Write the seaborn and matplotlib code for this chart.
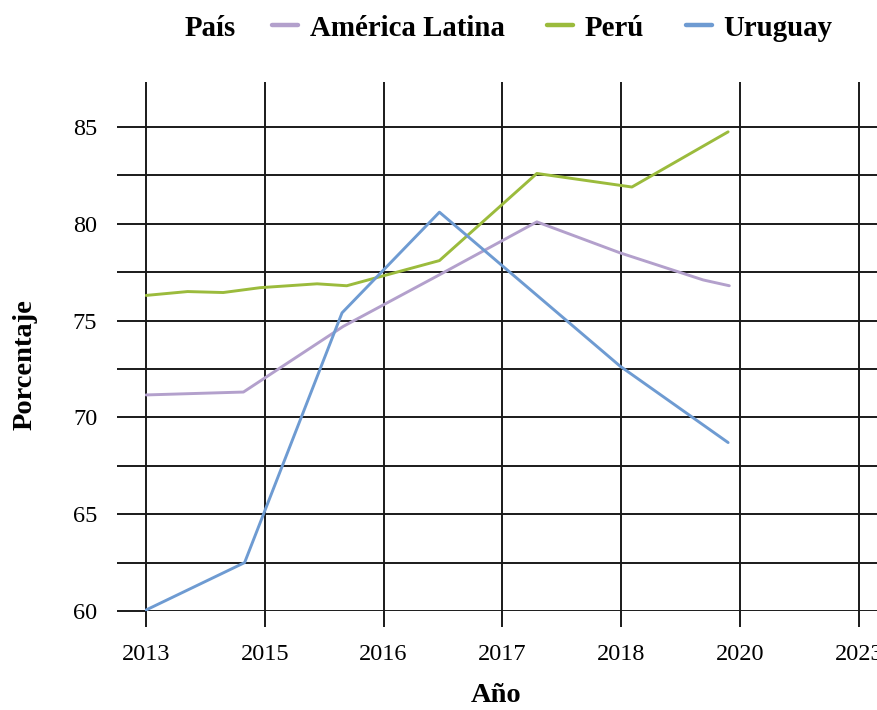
import pandas as pd
import seaborn as sns
import matplotlib
matplotlib.use("Agg")
import matplotlib.pyplot as plt
from matplotlib.ticker import MultipleLocator

# tick positions are evenly spaced, labels as printed on the chart
tick_pos = [0, 1, 2, 3, 4, 5, 6]
tick_labels = ["2013", "2015", "2016", "2017", "2018", "2020", "2023"]

# values (x in tick-spacing units)
latam_x = [0, 0.82, 1.66, 2.45, 3.29, 3.99, 4.69, 4.91]
latam_y = [71.16, 71.31, 74.7, 77.3, 80.1, 78.5, 77.1, 76.8]

peru_x = [0, 0.35, 0.65, 0.96, 1.44, 1.69, 2.47, 3.29, 4.09, 4.90]
peru_y = [76.3, 76.5, 76.45, 76.7, 76.9, 76.8, 78.1, 82.6, 81.9, 84.75]

uru_x = [0, 0.83, 1.65, 2.47, 3.99, 4.90]
uru_y = [60.05, 62.5, 75.4, 80.6, 72.65, 68.7]

paises = ["América Latina", "Perú", "Uruguay"]
colores = {"América Latina": "#b3a0cc", "Perú": "#9bbb3c", "Uruguay": "#6e9bd2"}


def build_frame():
    rows = []
    for name, xs, ys in [("América Latina", latam_x, latam_y),
                         ("Perú", peru_x, peru_y),
                         ("Uruguay", uru_x, uru_y)]:
        for i, (xv, yv) in enumerate(zip(xs, ys)):
            rows.append({"País": name, "orden": i, "x": xv, "Porcentaje": yv})
    return pd.DataFrame(rows)


sns.set_theme(style="white")
plt.rcParams['font.family'] = ['Liberation Serif', 'DejaVu Serif']
plt.rcParams.update({"text.color": "black", "axes.labelcolor": "black",
                     "xtick.color": "black", "ytick.color": "black"})

df = build_frame()

# small margin on the left so the first grid line is not clipped
x0 = -0.012
px_per_x = 118.8
left_px = 146 + x0 * px_per_x

fig = plt.figure(figsize=(8.78, 7.10), dpi=100)
ax = fig.add_axes([left_px / 878, (710 - 611) / 710, 1 - left_px / 878, (611 - 82) / 710])

sns.lineplot(data=df, x="x", y="Porcentaje", hue="País", hue_order=paises,
             palette=colores, sort=False, estimator=None, linewidth=2.1, ax=ax)

handles, labels = ax.get_legend_handles_labels()
ax.get_legend().remove()

ax.set_xlim(x0, (878 - 146) / px_per_x)
ax.set_ylim(60, 60 + (611 - 82) / 19.36)

ax.set_xticks(tick_pos)
ax.set_xticklabels(tick_labels)
ax.yaxis.set_major_locator(MultipleLocator(5))
ax.yaxis.set_minor_locator(MultipleLocator(2.5))

for s in ax.spines.values():
    s.set_visible(False)

grid_kw = dict(color="#1a1a1a", linewidth=1.4)
ax.grid(True, which="major", axis="both", **grid_kw)
ax.grid(True, which="minor", axis="y", **grid_kw)
ax.set_axisbelow(True)

ax.tick_params(axis="x", which="major", direction="out", length=11.5, width=1.4,
               color="#1a1a1a", pad=12, labelsize=17.5, bottom=True)
ax.tick_params(axis="y", which="both", direction="out", length=20, width=1.4,
               color="#1a1a1a", pad=14, labelsize=17.5, left=True)
ax.tick_params(axis="y", which="minor", labelleft=False)

ax.set_xlabel("Año", fontsize=20.5, fontweight="bold")
ax.set_ylabel("Porcentaje", fontsize=20.5, fontweight="bold")
# label centres as in the reference (figure pixels -> axes fraction)
ax_w = 878 - left_px
ax_h = 611 - 82
ax.xaxis.set_label_coords((496 - left_px) / ax_w, (611 - 695) / ax_h)
ax.yaxis.set_label_coords((25 - left_px) / ax_w, (611 - 365) / ax_h)
ax.xaxis.label.set_va("center")
ax.yaxis.label.set_va("center")

leg_y = 1 - 28 / 710
fig.text(185 / 878, leg_y, "País", fontsize=20.8, fontweight="bold",
         ha="left", va="center")
leg = fig.legend(handles, labels, loc="center left",
                 bbox_to_anchor=(258 / 878, leg_y), ncol=3, frameon=False,
                 borderpad=0, handlelength=0.9, handletextpad=0.4,
                 columnspacing=1.45, prop={"size": 20.8, "weight": "bold"})
for h in leg.legend_handles:
    h.set_linewidth(3.2)

fig.savefig("out.png", dpi=100)
